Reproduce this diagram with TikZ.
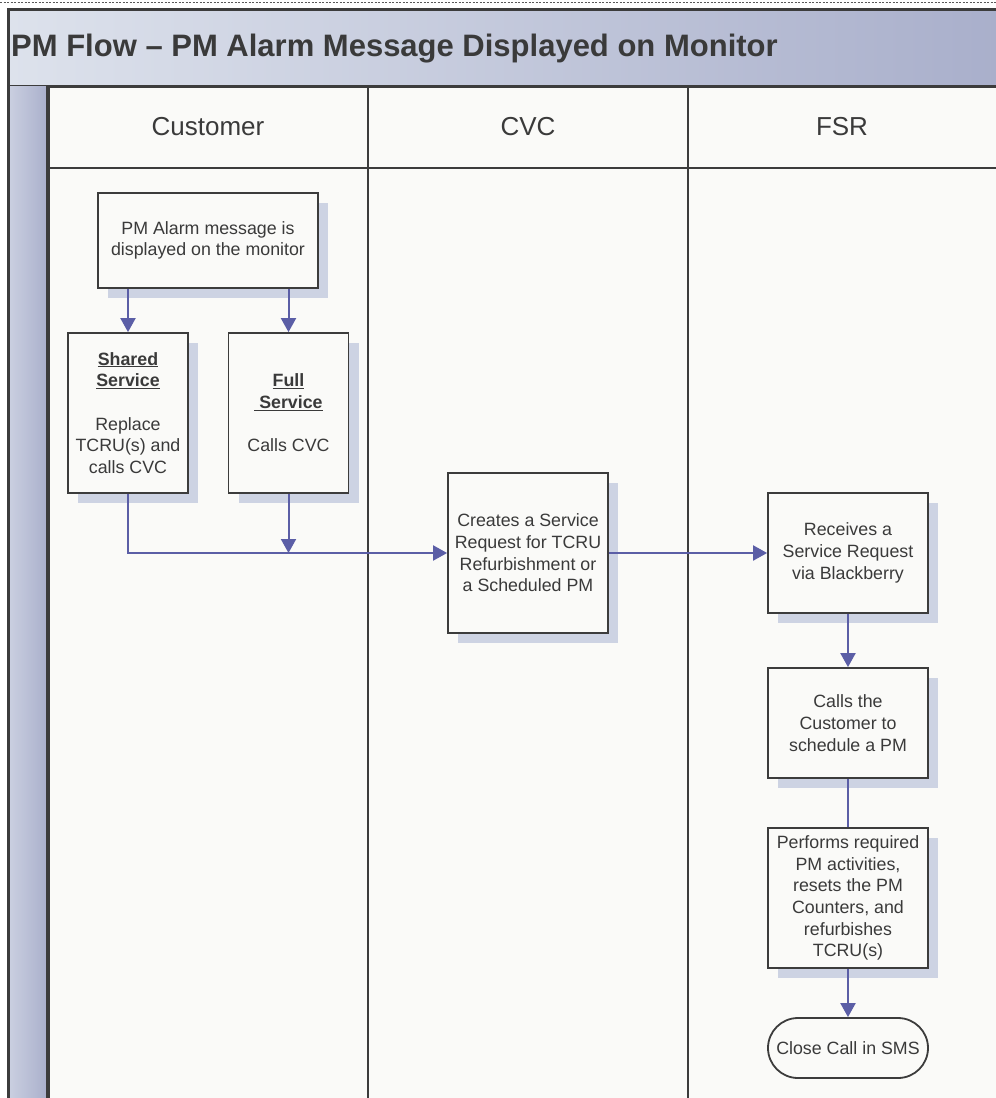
\documentclass[tikz,border=0pt]{standalone}
\usepackage{fontspec}
\setmainfont{Liberation Sans}
\usetikzlibrary{arrows.meta,shapes.misc,shadows}
\definecolor{txt}{HTML}{3A3A3A}
\definecolor{frame}{HTML}{3C3C3C}
\definecolor{lanebg}{HTML}{FAFAF8}
\definecolor{shadowc}{HTML}{CDD3E3}
\definecolor{conn}{HTML}{5B5EA6}
\definecolor{barL}{HTML}{DDE2EC}
\definecolor{barR}{HTML}{A9AFCB}
\definecolor{sideL}{HTML}{CBD0E1}
\definecolor{sideR}{HTML}{A9AFCB}
\begin{document}
\begin{tikzpicture}[x=1pt,y=-1pt,
  stepbox/.style={draw=frame, line width=1.8pt, fill=lanebg, text=txt,
    align=center, inner sep=0pt, minimum width=160pt,
    font=\fontsize{17.8}{21.7}\selectfont,
    drop shadow={fill=shadowc, opacity=1, shadow xshift=10pt, shadow yshift=-10pt}},
  endbox/.style={draw=frame, line width=1.8pt, fill=lanebg, text=txt,
    rounded rectangle, align=center, inner sep=0pt, minimum width=160pt,
    minimum height=60pt, font=\fontsize{17.8}{21.7}\selectfont},
  lanehead/.style={text=txt, font=\fontsize{26}{30}\selectfont},
  arr/.style={draw=conn, line width=2pt, -{Triangle[width=15pt,length=14pt]}},
  plain/.style={draw=conn, line width=2pt},
  sep/.style={draw=frame, line width=1.8pt}
]
\useasboundingbox (0,0) rectangle (996,1098);
\clip (0,0) rectangle (996,1098);
\fill[white] (0,0) rectangle (996,1098);
% top dotted line
\draw[gray!70!black, line width=1.2pt, dash pattern=on 2pt off 1.5pt] (0,2.5) -- (996,2.5);
% lanes background
\fill[lanebg] (50,86) rectangle (1000,1100);
% title bar
\shade[left color=barL, right color=barR] (8,10) rectangle (1000,86);
\draw[frame, line width=3pt] (1004,9.5) -- (8.5,9.5) -- (8.5,86) -- (1004,86);
% side bar
\shade[left color=sideL, right color=sideR] (8,86) rectangle (48,1100);
\draw[frame, line width=3pt] (8.5,86) -- (8.5,1100);
\draw[frame, line width=4pt] (48,86) -- (48,1100);
% lane separators
\draw[sep] (368,86) -- (368,1100);
\draw[sep] (688,86) -- (688,1100);
\draw[sep] (50,168) -- (1000,168);
% title
\node[anchor=base west, inner sep=0pt, text=txt, font=\fontsize{31}{36}\selectfont\bfseries] (title) at (11,56) {PM Flow – PM Alarm Message Displayed on Monitor};
% lane headers
\node[lanehead] (hcust) at (208,127) {Customer};
\node[lanehead] (hcvc) at (528,127) {CVC};
\node[lanehead] (hfsr) at (842,127) {FSR};
% boxes
\node[stepbox, minimum width=220pt, minimum height=95pt] (alarm) at (208,240.5) {PM Alarm message is\\displayed on the monitor};
\node[stepbox, minimum width=120pt, minimum height=160pt] (shared) at (128,413) {\underline{\textbf{Shared}}\\\underline{\textbf{Service}}\\[21.7pt]Replace\\TCRU(s) and\\calls CVC};
\node[stepbox, minimum width=120pt, minimum height=160pt] (full) at (288.5,413) {\underline{\textbf{Full}}\\\underline{\textbf{\ Service}}\\[21.7pt]Calls CVC};
\node[stepbox, minimum height=160pt] (create) at (528,553) {Creates a Service\\Request for TCRU\\Refurbishment or\\a Scheduled PM};
\node[stepbox, minimum height=120pt] (recv) at (848,553) {Receives a\\Service Request\\via Blackberry};
\node[stepbox, minimum height=110pt] (callc) at (848,723) {Calls the\\Customer to\\schedule a PM};
\node[stepbox, minimum height=140pt] (perform) at (848,898) {Performs required\\PM activities,\\resets the PM\\Counters, and\\refurbishes\\TCRU(s)};
\node[endbox] (close) at (848,1048) {Close Call in SMS};
% connectors
\coordinate (j) at (full.south |- create.west);
\draw[arr] (alarm.south -| shared.north) -- (shared.north);
\draw[arr] (alarm.south -| full.north) -- (full.north);
\draw[arr] (shared.south) |- (create.west);
\draw[arr] (full.south) -- (j);
\draw[arr] (create.east) -- (recv.west);
\draw[arr] (recv.south) -- (callc.north);
\draw[plain] (callc.south) -- (perform.north);
\draw[arr] (perform.south) -- (close.north);
\end{tikzpicture}
\end{document}
